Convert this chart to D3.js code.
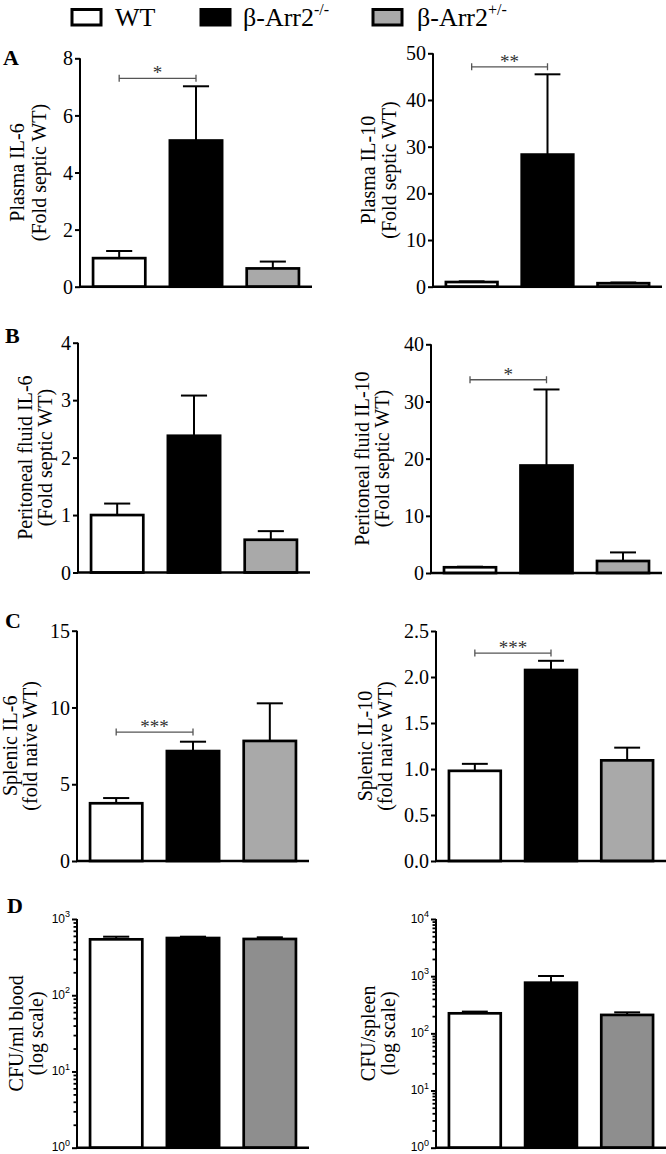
<!DOCTYPE html>
<html>
<head>
<meta charset="utf-8">
<script src="https://cdn.jsdelivr.net/npm/d3@7"></script>
<style>
  html, body { margin: 0; padding: 0; background: #fff; }
  svg { display: block; font-family: "Liberation Serif", "Times New Roman", serif; }
</style>
</head>
<body>
<svg id="chart" width="666" height="1154"></svg>
<script>
// ---------- DATA ----------
const groups = ["WT", "β-Arr2-/-", "β-Arr2+/-"];

const plasmaIL6Mean  = [1.0, 5.12, 0.64];
const plasmaIL6Sem   = [0.25, 1.90, 0.24];
const plasmaIL10Mean = [1.0, 28.3, 0.75];
const plasmaIL10Sem  = [0.15, 17.2, 0.15];
const periIL6Mean    = [1.0, 2.38, 0.57];
const periIL6Sem     = [0.20, 0.70, 0.15];
const periIL10Mean   = [1.0, 18.8, 2.1];
const periIL10Sem    = [0.10, 13.3, 1.5];
const splenicIL6Mean = [3.76, 7.16, 7.82];
const splenicIL6Sem  = [0.34, 0.61, 2.45];
const splenicIL10Mean= [0.98, 2.076, 1.094];
const splenicIL10Sem = [0.076, 0.10, 0.138];
const cfuBloodMean   = [541, 563, 547];
const cfuBloodSem    = [45, 23, 28];
const cfuSpleenMean  = [224, 769, 210];
const cfuSpleenSem   = [16, 238, 23];

const ticksA1 = [0, 2, 4, 6, 8];
const ticksA2 = [0, 10, 20, 30, 40, 50];
const ticksB1 = [0, 1, 2, 3, 4];
const ticksB2 = [0, 10, 20, 30, 40];
const ticksC1 = [0, 5, 10, 15];
const ticksC2 = [0, 0.5, 1.0, 1.5, 2.0, 2.5];
const ticksD1 = [1, 10, 100, 1000];
const ticksD2 = [1, 10, 100, 1000, 10000];

// ---------- LAYOUT ----------
const fills = ["#ffffff", "#000000", "#a9a9a9"];
const fillsD = ["#ffffff", "#000000", "#8e8e8e"];

const panels = [
  {letter:"A", lx:3, ly:65, x0:80, x1:312, yTop:58.3, yBot:286.7, domain:[0,8], ticks:ticksA1, fmt:d3.format("d"),
   mean:plasmaIL6Mean, sem:plasmaIL6Sem, label:["Plasma IL-6","(Fold septic WT)"], labX:24, labGap:22, sig:"*", sigY:7.3},
  {x0:433, x1:662, yTop:53.3, yBot:286.7, domain:[0,50], ticks:ticksA2, fmt:d3.format("d"),
   mean:plasmaIL10Mean, sem:plasmaIL10Sem, label:["Plasma IL-10","(Fold septic WT)"], labX:375, labGap:21, sig:"**", sigY:47.1},
  {letter:"B", lx:5, ly:343, x0:78, x1:310, yTop:342.7, yBot:572.5, domain:[0,4], ticks:ticksB1, fmt:d3.format("d"),
   mean:periIL6Mean, sem:periIL6Sem, label:["Peritoneal fluid IL-6","(Fold septic WT)"], labX:32, labGap:20},
  {x0:431, x1:662, yTop:344.3, yBot:573, domain:[0,40], ticks:ticksB2, fmt:d3.format("d"),
   mean:periIL10Mean, sem:periIL10Sem, label:["Peritoneal fluid IL-10","(Fold septic WT)"], labX:369, labGap:20, sig:"*", sigY:33.8},
  {letter:"C", lx:5, ly:628, x0:77, x1:309, yTop:630.7, yBot:861, domain:[0,15], ticks:ticksC1, fmt:d3.format("d"),
   mean:splenicIL6Mean, sem:splenicIL6Sem, label:["Splenic IL-6","(fold naive WT)"], labX:17, labGap:20, sig:"***", sigY:8.4},
  {x0:436, x1:666, yTop:631, yBot:861, domain:[0,2.5], ticks:ticksC2, fmt:d3.format(".1f"),
   mean:splenicIL10Mean, sem:splenicIL10Sem, label:["Splenic IL-10","(fold naive WT)"], labX:372, labGap:20, sig:"***", sigY:2.26},
  {letter:"D", lx:7, ly:913, x0:77, x1:309, yTop:919, yBot:1147.7, domain:[1,1000], ticks:ticksD1, log:true,
   mean:cfuBloodMean, sem:cfuBloodSem, label:["CFU/ml blood","(log scale)"], labX:23, labGap:20},
  {x0:436, x1:666, yTop:919, yBot:1147.7, domain:[1,10000], ticks:ticksD2, log:true,
   mean:cfuSpleenMean, sem:cfuSpleenSem, label:["CFU/spleen","(log scale)"], labX:375, labGap:20}
];

const svg = d3.select("#chart");

// ---------- LEGEND ----------
const legendItems = [
  {x:72, fill:"#ffffff", tx:115, name:"WT", sup:""},
  {x:201, fill:"#000000", tx:243, name:"β-Arr2", sup:"-/-"},
  {x:373, fill:"#aaaaaa", tx:417, name:"β-Arr2", sup:"+/-"}
];
const lg = svg.append("g");
legendItems.forEach(it => {
  lg.append("rect").attr("x", it.x).attr("y", 9.5).attr("width", 29).attr("height", 15.5)
    .attr("fill", it.fill).attr("stroke", "#000").attr("stroke-width", 3);
  const t = lg.append("text").attr("x", it.tx).attr("y", 26).attr("font-size", 26).text(it.name);
  if (it.sup) t.append("tspan").attr("font-size", 16).attr("dy", -11).text(it.sup);
});

// ---------- PANELS ----------
panels.forEach(p => {
  const g = svg.append("g");
  const x = d3.scaleBand().domain(groups).range([p.x0, p.x1]).paddingInner(0.32).paddingOuter(0.17);
  const y = p.log
    ? d3.scaleLog().domain(p.domain).range([p.yBot, p.yTop])
    : d3.scaleLinear().domain(p.domain).range([p.yBot, p.yTop]);
  const base = p.log ? p.domain[0] : 0;
  const colors = p.log ? fillsD : fills;

  // error bars (upward only)
  const capW = x.bandwidth() / 2;
  groups.forEach((gname, i) => {
    const cx = x(gname) + x.bandwidth() / 2;
    const top = p.mean[i] + p.sem[i];
    g.append("line").attr("x1", cx).attr("x2", cx)
      .attr("y1", y(p.mean[i])).attr("y2", y(top))
      .attr("stroke", "#000").attr("stroke-width", 2);
    g.append("line").attr("x1", cx - capW / 2).attr("x2", cx + capW / 2)
      .attr("y1", y(top)).attr("y2", y(top))
      .attr("stroke", "#000").attr("stroke-width", 2);
  });

  // bars
  g.selectAll("rect.bar").data(groups).enter().append("rect")
    .attr("class", "bar")
    .attr("x", d => x(d))
    .attr("width", x.bandwidth())
    .attr("y", (d, i) => y(p.mean[i]))
    .attr("height", (d, i) => y(base) - y(p.mean[i]))
    .attr("fill", (d, i) => colors[i])
    .attr("stroke", "#000").attr("stroke-width", 2.7);

  // y axis
  if (!p.log) {
    const ax = g.append("g").attr("transform", `translate(${p.x0},0)`)
      .call(d3.axisLeft(y).tickValues(p.ticks).tickFormat(p.fmt).tickSize(5).tickPadding(2));
    ax.select(".domain").attr("stroke-width", 2).attr("d", `M0,${p.yTop}V${p.yBot}`);
    ax.selectAll(".tick line").attr("stroke-width", 2);
    ax.selectAll(".tick text").attr("font-size", 20).attr("font-family", "Liberation Serif").attr("dy", "0.33em");
  } else {
    const minors = [];
    for (let e = Math.log10(p.domain[0]); e < Math.log10(p.domain[1]); e++) {
      for (let k = 2; k <= 9; k++) minors.push(k * Math.pow(10, e));
    }
    const mx = g.append("g").attr("transform", `translate(${p.x0},0)`)
      .call(d3.axisLeft(y).tickValues(minors).tickFormat("").tickSize(3.5));
    mx.select(".domain").remove();
    mx.selectAll(".tick line").attr("stroke-width", 1.8);
    const ax = g.append("g").attr("transform", `translate(${p.x0},0)`)
      .call(d3.axisLeft(y).tickValues(p.ticks).tickFormat("").tickSize(5).tickPadding(3));
    ax.select(".domain").attr("stroke-width", 2).attr("d", `M0,${p.yTop}V${p.yBot}`);
    ax.selectAll(".tick line").attr("stroke-width", 2);
    ax.selectAll(".tick").each(function(d) {
      const t = d3.select(this).append("text")
        .attr("x", -7).attr("dy", "0.25em").attr("text-anchor", "end")
        .attr("fill", "#000").attr("font-family", "Liberation Sans, Arial, sans-serif").attr("font-size", 12);
      t.append("tspan").text("10");
      t.append("tspan").attr("font-size", 9).attr("dy", "-0.6em").text(Math.round(Math.log10(d)));
    });
  }

  // x axis line
  g.append("line").attr("x1", p.x0 - 1).attr("x2", p.x1)
    .attr("y1", p.yBot).attr("y2", p.yBot)
    .attr("stroke", "#000").attr("stroke-width", 2.5);

  // y label
  const cy = (p.yTop + p.yBot) / 2;
  const lt = g.append("text").attr("transform", `translate(${p.labX},${cy}) rotate(-90)`)
    .attr("text-anchor", "middle").attr("font-size", 20);
  lt.append("tspan").attr("x", 0).attr("y", 0).text(p.label[0]);
  lt.append("tspan").attr("x", 0).attr("y", p.labGap).text(p.label[1]);

  // panel letter
  if (p.letter) {
    g.append("text").attr("x", p.lx).attr("y", p.ly).attr("font-size", 22)
      .attr("font-weight", "bold").text(p.letter);
  }

  // significance bracket
  if (p.sig) {
    const xa = x(groups[0]) + x.bandwidth() / 2;
    const xb = x(groups[1]) + x.bandwidth() / 2;
    const by = y(p.sigY);
    g.append("path").attr("d", `M${xa},${by - 3.5}V${by + 3.5}M${xa},${by}H${xb}M${xb},${by - 3.5}V${by + 3.5}`)
      .attr("stroke", "#555").attr("stroke-width", 1.3).attr("fill", "none");
    g.append("text").attr("x", (xa + xb) / 2).attr("y", by + 1)
      .attr("text-anchor", "middle").attr("font-size", 19).attr("fill", "#333").text(p.sig);
  }
});
</script>
</body>
</html>
